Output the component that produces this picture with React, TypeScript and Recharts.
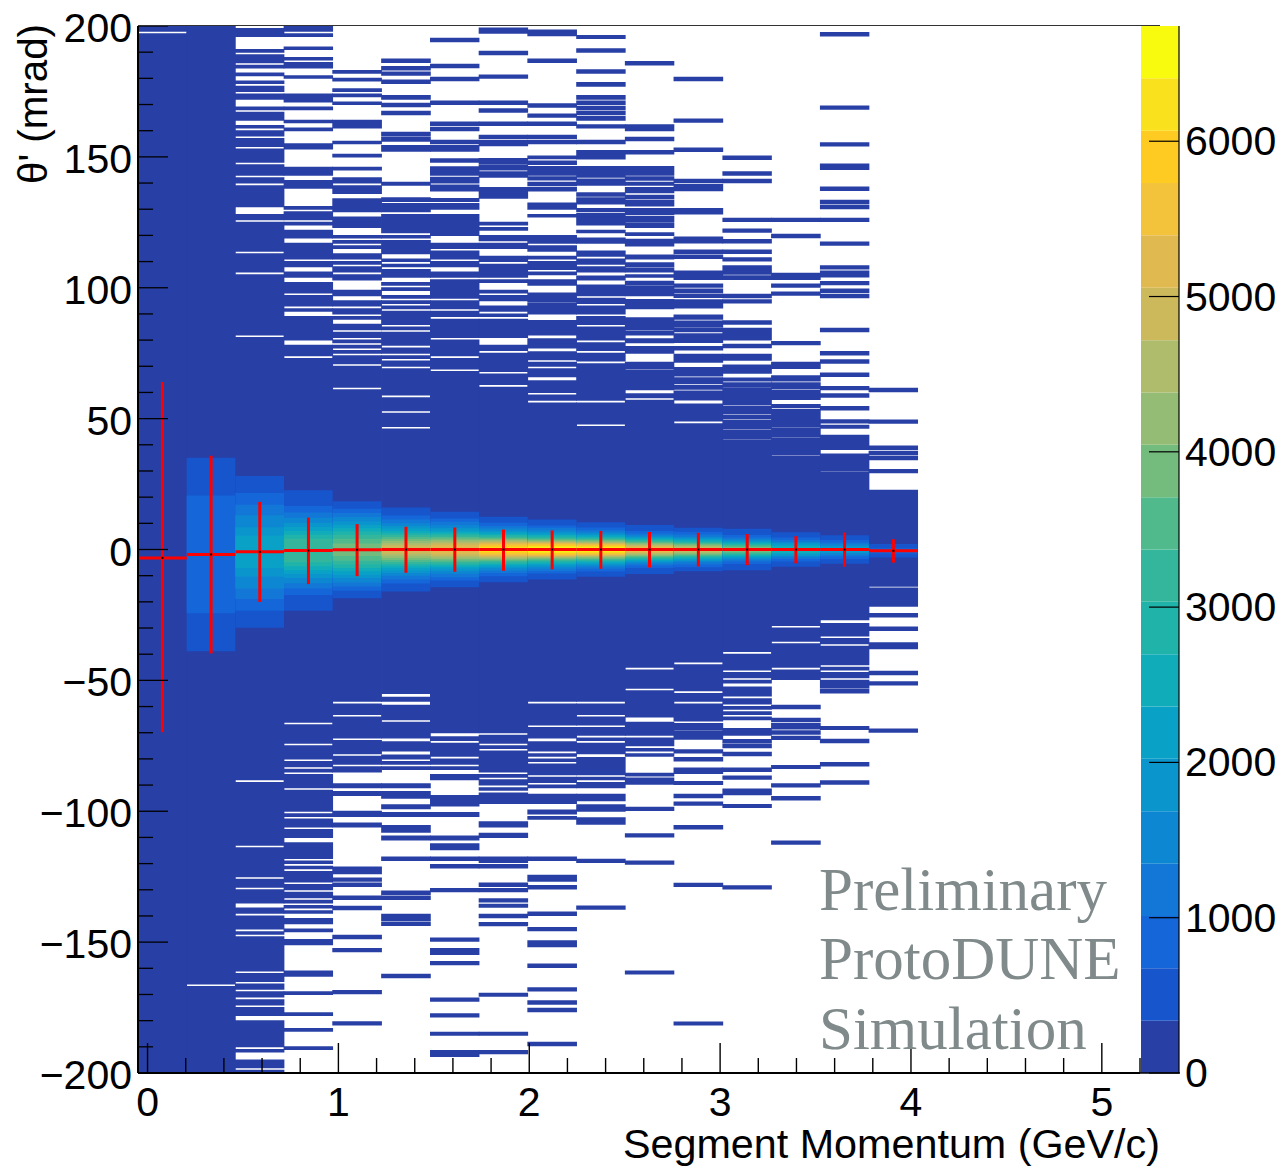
import { ScatterChart, Scatter, XAxis, YAxis, ErrorBar, ReferenceArea } from 'recharts'

// bin edges of the momentum axis (GeV/c)
const binEdges = [-0.05, 0.205, 0.46, 0.715, 0.97, 1.226, 1.482, 1.737, 1.992, 2.248, 2.503, 2.758, 3.014, 3.269, 3.525, 3.78, 4.035]
const binCentres = [0.078, 0.333, 0.588, 0.843, 1.098, 1.354, 1.61, 1.865, 2.12, 2.375, 2.63, 2.886, 3.142, 3.397, 3.652, 3.908]

// occupied theta' ranges [hi, lo] in every momentum bin (mrad)
const bins0 = [[200, 198], [197, -200]]
const bins1 = [[200, -166], [-167, -200]]
const bins2 = [[199, 196], [191, 190], [189, 186], [185, 184], [182, 181], [179, 178], [177, 175], [174, 172], [169, 168], [167, 164], [162, 161], [160, 158], [157, 154], [153, 148], [147, 143], [142, 140], [139, 131], [128, 126], [125, 114], [113, 106], [105, 82], [81, -88], [-89, -113], [-114, -125], [-126, -129], [-130, -135], [-137, -139], [-140, -145], [-146, -147], [-148, -161], [-162, -165], [-166, -168], [-169, -171], [-172, -174], [-175, -178], [-180, -190], [-191, -192], [-195, -198], [-199, -200]]
const bins3 = [[200, 198], [197, 196], [192, 191], [188, 187], [186, 184], [181, 180], [174, 171], [169, 168], [164, 163], [161, 160], [155, 153], [146, 143], [141, 138], [131, 130], [129, 126], [125, 124], [122, 119], [117, 111], [110, 108], [106, 104], [102, 98], [97, 93], [92, 91], [89, 80], [78, 74], [73, -66], [-67, -74], [-75, -80], [-81, -83], [-84, -85], [-86, -91], [-92, -100], [-101, -102], [-103, -106], [-107, -110], [-112, -118], [-119, -120], [-121, -122], [-123, -127], [-128, -130], [-131, -133], [-134, -135], [-136, -137], [-138, -139], [-141, -143], [-145, -146], [-149, -151], [-161, -163], [-169, -170], [-177, -178], [-183, -184], [-190, -191]]
const bins4 = [[183, 182], [180, 179], [176, 175], [174, 173], [171, 170], [164, 161], [156, 155], [151, 150], [146, 145], [142, 140], [139, 136], [134, 129], [127, 123], [120, 119], [118, 117], [116, 115], [113, 111], [110, 109], [108, 106], [105, 103], [99, 97], [95, 93], [92, 90], [89, 88], [86, 84], [83, 81], [80, 79], [78, 77], [76, 75], [74, 71], [70, 62], [61, -58], [-59, -63], [-64, -72], [-73, -78], [-79, -82], [-83, -85], [-89.5, -91], [-92.5, -94], [-100, -102], [-104.5, -106], [-121.3, -123.9], [-125.5, -126.7], [-127.4, -128.7], [-132.4, -133.7], [-136.3, -137.6], [-147.4, -148.7], [-152.4, -153.7], [-168.5, -169.7], [-180.4, -181.7]]
const bins5 = [[187.4, 186.1], [184.5, 183.2], [182.4, 181.2], [179.4, 178], [173.4, 172], [170.5, 169.2], [167.4, 166.1], [159.4, 158], [157.5, 156], [154.3, 152.2], [140.3, 139.2], [134.4, 133], [132.2, 130.7], [130.3, 129], [128, 121], [120, 119], [118, 113], [111, 110], [109, 108], [107, 104], [102, 101], [100, 99], [97, 96], [95, 94], [93, 92], [91, 86], [85, 84], [83, 78], [77, 75], [74, 73], [72, 70], [69, 59], [58, 53], [52, 47], [46, -55], [-56.5, -58], [-59.5, -65], [-66, -72], [-73.5, -77], [-78.5, -80], [-81, -82], [-83, -84], [-89.5, -91], [-92.5, -95], [-97.5, -99], [-100.5, -102], [-105.5, -108], [-109.5, -111], [-117.5, -118.8], [-130.5, -131.8], [-132.4, -133.7], [-139.4, -141.7], [-142.3, -143.6], [-162.3, -163.6]]
const bins6 = [[195.3, 194], [185.4, 184.1], [180.4, 179.1], [171.3, 170], [163.3, 162], [161.3, 160], [156.3, 155], [154.3, 152.2], [149.3, 148], [146.2, 143], [142.2, 140], [139.2, 137], [134.1, 133], [132.2, 130], [128, 120], [117, 115], [114, 111], [110, 108], [106, 104], [103, 96], [95, 92], [91, 89], [88, 81], [80, 74], [73, 69], [68, -70], [-71.5, -73], [-74, -79], [-80, -82], [-83, -84], [-86, -88], [-94, -98], [-100.5, -102], [-109.5, -111], [-112.4, -114.7], [-117.5, -118.8], [-120.4, -121.7], [-129.5, -130.7], [-148.4, -149.7], [-152.4, -154.7], [-157.4, -158.6], [-171.4, -172.6], [-177.4, -178.6], [-184.4, -185.6], [-191.4, -193.7]]
const bins7 = [[199.2, 197.2], [190.3, 189], [181.3, 180], [171.3, 170], [168.4, 167.1], [163.3, 162], [158.3, 157], [156.3, 154.3], [149.4, 147.3], [146.9, 145], [144.3, 142.2], [138.3, 134.2], [125, 124], [123, 122], [120, 118], [117, 115], [112, 110], [109, 104], [103, 102], [99, 98], [97, 95], [93, 91], [90, 89], [88, 81], [78, 76], [75, 68], [67, 63], [62, -70], [-71, -74], [-75, -76], [-77, -85], [-86, -87], [-88, -90], [-91, -92], [-93, -97], [-104, -106], [-108.4, -110], [-117.5, -119.6], [-120.4, -121.7], [-127.4, -128.7], [-129.5, -130.7], [-133.4, -134.7], [-135.5, -136.7], [-139.4, -140.7], [-142.5, -143.7], [-169.5, -170.7], [-184.4, -185.6], [-191.4, -192.6]]
const bins8 = [[198.5, 196.3], [187.4, 186.1], [170.3, 169], [166.4, 165.1], [163.3, 162], [158.3, 157], [156.3, 155], [150.3, 149.3], [148.4, 147.1], [146.3, 143], [142.4, 141.2], [140.3, 139], [138.3, 137], [132.4, 130], [128, 127], [120, 117], [116, 114], [112, 111], [110, 107], [106, 105], [103, 101], [98, 94.5], [94, 90], [87.5, 82], [80.5, 77], [75.5, 72.5], [71.5, 70], [69, 66], [64.5, 60], [59, 57], [56, -58], [-59, -67], [-68, -72], [-73.5, -77], [-78, -79], [-80, -81], [-82, -86], [-87, -89], [-90, -91], [-93.5, -97], [-99.5, -101], [-102, -103], [-117.5, -118.8], [-124.5, -126.7], [-128.4, -129.7], [-138.5, -139.8], [-144.4, -145.6], [-149.5, -151.8], [-158.4, -159.7], [-167.4, -168.7], [-172.4, -173.7], [-175.3, -176.6], [-188.3, -189.6]]
const bins9 = [[196.4, 195.2], [191.3, 190], [183.3, 182], [178.4, 177], [173.4, 172], [171.3, 170], [169.3, 168], [167.4, 166.1], [165.4, 164], [162.3, 161], [156.3, 155], [152.4, 149.2], [146.3, 142.2], [141.5, 139.2], [136.3, 135], [134.4, 132], [130.3, 129], [128.4, 127.1], [127, 124], [122, 121], [119, 117], [114, 112], [111, 109], [108, 106], [104.5, 103], [101, 97], [96, 94], [93, 90], [89, 86], [85, 80], [79, 76], [75, 72], [71, 57], [56, 48], [47, -58], [-59, -63], [-64, -67], [-68, -71], [-72, -73], [-74, -78], [-79.5, -86], [-87, -88], [-89, -91], [-93.5, -96], [-97.5, -100], [-102.5, -105], [-118.3, -119.6], [-136.2, -137.4]]
const bins10 = [[186.4, 185.1], [162.3, 160], [157.5, 156.2], [152.4, 151.1], [146.3, 143], [142.4, 141.1], [140.3, 139.2], [138.3, 136.3], [135.3, 134], [133.4, 131.2], [130.3, 128], [127.3, 125], [124.5, 123], [121, 120], [118.5, 116], [112.5, 111], [109.5, 108], [107.5, 106], [105, 104], [102.5, 101], [100.5, 97], [95.5, 92], [88.5, 84], [83.5, 82], [80.5, 79], [77.5, 75], [71.5, 69], [68.5, 61], [59.5, 58], [57, -45], [-46, -53], [-54, -64], [-66, -71], [-72, -75], [-76, -77], [-78, -79], [-85.5, -86.5], [-87.3, -89.7], [-98.5, -99.7], [-108.6, -109.8], [-119, -120.2], [-161, -162.2]]
const bins11 = [[180.4, 179.1], [164.5, 163.2], [153.4, 152.1], [141.4, 140.1], [139.4, 137.1], [130.3, 128.2], [119.4, 117.1], [114.4, 113.1], [112.5, 111.2], [106.4, 103.2], [101.4, 100.2], [99.5, 98.2], [97.6, 96.3], [95.4, 92.3], [89.6, 88], [87.3, 85.2], [84.7, 83.2], [82.4, 79.1], [77.5, 76.2], [74.6, 71.5], [69.5, 66.3], [65.6, 63.3], [62.6, 61.2], [60.5, 57.1], [55.6, 49.1], [48, -43], [-44, -54], [-55, -58], [-59, -65.5], [-66.5, -69], [-69.5, -72.5], [-76.5, -77.7], [-79.5, -80.8], [-83.5, -85.6], [-88.6, -89.8], [-93.5, -94.8], [-96.5, -97.7], [-105.5, -106.8], [-127.5, -128.7], [-180.5, -181.7]]
const bins12 = [[150.3, 149], [144.3, 143], [141.4, 140.1], [126.5, 125.3], [122.4, 121.2], [118.4, 117.1], [114.4, 113.1], [111.5, 110.2], [108.4, 105.2], [104.6, 103.2], [97.5, 96.2], [95.4, 94.2], [87.4, 86.1], [84.5, 80], [78.4, 77.1], [74.6, 72.3], [70.5, 67.3], [65.5, 64.4], [63.7, 62], [61.6, 55.2], [54.6, 52], [51.4, 50.1], [49.5, 46.1], [45.6, 42.1], [41.6, -39], [-40, -46], [-47, -49], [-50, -51], [-52.5, -56], [-57, -59], [-60, -61], [-62, -63], [-64, -65], [-68.4, -71], [-72.6, -73.9], [-74.4, -75.7], [-77.5, -78.8], [-83.5, -84.8], [-86.5, -87.8], [-91.5, -93.7], [-97.4, -98.6], [-128.5, -129.7]]
const bins13 = [[126.5, 125.3], [120.4, 119.1], [105.5, 103.2], [101.4, 100.2], [98.4, 97.1], [79.5, 78.2], [71.5, 69.2], [66.4, 64.4], [63.7, 61.3], [60.7, 57.3], [55.4, 54.2], [53.5, 47], [46.5, 43.2], [42.7, 36.2], [35.7, -29], [-30, -35], [-36, -45], [-46, -49.7], [-59.5, -60.8], [-64.5, -65.8], [-66.5, -68.6], [-69.3, -70.6], [-71.4, -72.6], [-82.5, -83.7], [-89.5, -90.7], [-94.4, -95.7], [-111.4, -112.6]]
const bins14 = [[197.5, 196.2], [169.4, 168.2], [155.4, 154.2], [147.3, 145.2], [138.5, 137.2], [133.4, 132.1], [131.5, 130.2], [126.5, 125.3], [117.5, 116.2], [108.4, 107.2], [106.4, 104.1], [102.4, 101.2], [99.5, 98.2], [97.5, 96.2], [84.5, 83.2], [75.6, 74.3], [72.5, 71.2], [67.4, 66.1], [62.3, 61], [59.5, 58.2], [54.6, 53.3], [49.6, 48.3], [47.5, 46.3], [43.6, 38.2], [36.5, 30.2], [29.7, -26.8], [-28.3, -33], [-34, -36], [-37, -44], [-45, -46], [-47, -49], [-50, -52.8], [-53.3, -54.8], [-67.6, -68.8], [-72.5, -73.8], [-81.4, -82.7], [-88.4, -89.7]]
const bins15 = [[61.6, 60.3], [49.5, 48.2], [39.5, 38.2], [37.5, 36.2], [35.6, 34.3], [30.6, 29.3], [22.6, -14], [-14.7, -21.7], [-24.5, -25.8], [-29.6, -30.9], [-35.6, -37.9], [-46.5, -47.8], [-50.5, -51.8], [-68.6, -69.8]]
const occupied = [bins0, bins1, bins2, bins3, bins4, bins5, bins6, bins7, bins8, bins9, bins10, bins11, bins12, bins13, bins14, bins15]

// half height (mrad) of each colour level around the bin's mean, level 1 first
const core0: number[] = []
const core1 = [37, 22.5]
const core2 = [29, 22.5, 18, 14, 9.4, 6.2]
const core3 = [23, 17, 14.5, 12.5, 10.5, 9, 7.5, 6, 4.5]
const core4 = [18.5, 15.7, 14, 12.5, 10.8, 9.5, 8.2, 7, 5.6, 4.2, 2.4]
const core5 = [16, 13, 11.5, 10, 9, 8, 7, 6.2, 5.5, 4.8, 4, 3.2, 2.4, 1.6]
const core6 = [14.4, 11.8, 10.6, 9.3, 8.2, 7.3, 6.6, 6, 5.4, 4.8, 4.2, 3.6, 3, 2.4, 1.6]
const core7 = [12.5, 10.2, 9, 8, 7.2, 6.6, 6, 5.5, 5, 4.5, 4.1, 3.7, 3.3, 2.9, 2.5, 2, 1.5, 0.9]
const core8 = [11.5, 9.2, 8.3, 7.4, 6.6, 6, 5.5, 5, 4.5, 4.1, 3.7, 3.3, 3.1, 2.8, 2.5, 2.2, 1.8, 1.3, 0.8]
const core9 = [10.4, 8.4, 7.4, 6.6, 6, 5.5, 5, 4.6, 4.2, 3.8, 3.5, 3.1, 2.8, 2.5, 2.2, 1.9, 1.5, 1.1, 0.7]
const core10 = [9.4, 7.1, 6.1, 5.4, 4.9, 4.5, 4.1, 3.7, 3.3, 3, 2.6, 2.3, 1.9, 1.5, 1.1, 0.7]
const core11 = [8.3, 6.8, 5.7, 4.9, 4.4, 3.9, 3.5, 3.1, 2.7, 2.4, 2, 1.6, 1.2, 0.8]
const core12 = [7.9, 5.5, 4.6, 3.9, 3.4, 3, 2.6, 2.2, 1.8, 1.4, 1, 0.6]
const core13 = [6.6, 4.6, 3.6, 3, 2.5, 1.9, 1.3, 0.7]
const core14 = [5.4, 3.6, 2.7, 2, 1.3, 0.7]
const core15 = [2.6, 1]
const core = [core0, core1, core2, core3, core4, core5, core6, core7, core8, core9, core10, core11, core12, core13, core14, core15]

// profile: mean and spread per momentum bin
const means = [-3.2, -1.9, -0.9, -0.4, -0.1, 0, 0, 0, 0, 0, 0, 0, 0, 0, 0, -0.5]
const spreadUp = [67.2, 37.7, 19.1, 12.6, 9.8, 8.7, 8.4, 7.6, 7.3, 7.1, 6.7, 6.4, 5.9, 5.1, 6.5, 4.4]
const spreadDown = [66.6, 37.8, 19.1, 12.8, 10.1, 8.9, 8.5, 8.1, 7.6, 7.4, 6.9, 6.5, 6, 5.3, 6.6, 4.5]

// colour scale
const levelEdges = [0, 337, 674, 1011, 1348, 1686, 2023, 2360, 2697, 3034, 3371, 3708, 4045, 4382, 4719, 5057, 5394, 5731, 6068, 6405, 6742]
const palette = ['#283fa6', '#1755cc', '#1566d8', '#1277d6', '#0e87d2', '#0a96cd', '#09a2c6', '#10acba', '#20b3aa', '#33b69b', '#50ba8c', '#74bc7e', '#94bc74', '#aebc6c', '#cbb95c', '#e0ba50', '#f3c33c', '#fdcb22', '#fae11d', '#f9fb0e']
const colorTicks = [0, 1000, 2000, 3000, 4000, 5000, 6000]

const xTicks = [0, 0.2, 0.4, 0.6, 0.8, 1, 1.2, 1.4, 1.6, 1.8, 2, 2.2, 2.4, 2.6, 2.8, 3, 3.2, 3.4, 3.6, 3.8, 4, 4.2, 4.4, 4.6, 4.8, 5, 5.2]
const yTicks = [-200, -190, -180, -170, -160, -150, -140, -130, -120, -110, -100, -90, -80, -70, -60, -50, -40, -30, -20, -10, 0, 10, 20, 30, 40, 50, 60, 70, 80, 90, 100, 110, 120, 130, 140, 150, 160, 170, 180, 190, 200]

const profile = binCentres.map((x, i) => ({
  x,
  y: means[i],
  ex: (binEdges[i + 1] - binEdges[i]) / 2,
  ey: [spreadDown[i], spreadUp[i]],
}))

// one point per colour level, only there so the scale chart has data
const levelPoints = palette.map((_, i) => ({ x: 0.5, y: (levelEdges[i] + levelEdges[i + 1]) / 2 }))

const FONT = '"Liberation Sans", Arial, sans-serif'
const TICK_FONT = 41
// small overlap so neighbouring bins leave no seam
const SEAM = 0.002

function XTick({ x, y, payload }: any) {
  const major = Number.isInteger(payload.value)
  return (
    <g>
      <line x1={x} x2={x} y1={y} y2={y - (major ? 30 : 15)} stroke="#000" strokeWidth={1.4} />
      {major && (
        <text x={x} y={y + 43} textAnchor="middle" fontSize={TICK_FONT} fontFamily={FONT} fill="#000">
          {payload.value}
        </text>
      )}
    </g>
  )
}

function YTick({ x, y, payload }: any) {
  const major = payload.value % 50 === 0
  const label = String(payload.value).replace('-', '\u2212')
  return (
    <g>
      <line x1={x} x2={x + (major ? 30 : 15)} y1={y} y2={y} stroke="#000" strokeWidth={1.3} />
      {major && (
        <text x={x - 6} y={y + 16} textAnchor="end" fontSize={TICK_FONT} fontFamily={FONT} fill="#000">
          {label}
        </text>
      )}
    </g>
  )
}

function ColorTick({ x, y, payload }: any) {
  return (
    <g>
      <line x1={x - 30} x2={x} y1={y} y2={y} stroke="#000" strokeWidth={1.2} />
      <text x={x + 6} y={y + 14} textAnchor="start" fontSize={TICK_FONT} fontFamily={FONT} fill="#000">
        {payload.value}
      </text>
    </g>
  )
}

const Marker = ({ cx, cy }: any) => <rect x={cx - 1} y={cy - 1} width={2} height={2} fill="#000" />

export default function App() {
  return (
    <div style={{ position: 'absolute', left: 0, top: 0, width: 1285, height: 1167, overflow: 'hidden', background: '#fff' }}>
      <ScatterChart
        width={1285}
        height={1167}
        margin={{ top: 26, right: 145, bottom: 0, left: 0 }}
        style={{ position: 'absolute', left: 0, top: 0 }}
      >
        <XAxis
          type="number"
          dataKey="x"
          domain={[-0.05, 5.2]}
          ticks={xTicks}
          interval={0}
          height={94}
          tickSize={0}
          tickMargin={0}
          tickLine={false}
          axisLine={{ stroke: '#000', strokeWidth: 2 }}
          tick={<XTick />}
          allowDataOverflow
        />
        <YAxis
          type="number"
          dataKey="y"
          domain={[-200, 200]}
          ticks={yTicks}
          interval={0}
          width={138}
          tickSize={0}
          tickMargin={0}
          tickLine={false}
          axisLine={{ stroke: '#000', strokeWidth: 2 }}
          tick={<YTick />}
          allowDataOverflow
        />
        {occupied.map((bands, i) =>
          bands.map(([hi, lo], j) => (
            <ReferenceArea
              key={`b${i}-${j}`}
              x1={Math.max(binEdges[i] - SEAM, -0.05)}
              x2={binEdges[i + 1] + SEAM}
              y1={Math.max(lo - 0.2, -200)}
              y2={Math.min(hi + 0.2, 200)}
              fill={palette[0]}
              fillOpacity={1}
              stroke="none"
            />
          ))
        )}
        {core.map((levels, i) =>
          levels.map((half, j) => (
            <ReferenceArea
              key={`c${i}-${j}`}
              x1={binEdges[i]}
              x2={binEdges[i + 1]}
              y1={means[i] - half}
              y2={means[i] + half}
              fill={palette[j + 1]}
              fillOpacity={1}
              stroke="none"
            />
          ))
        )}
        <Scatter data={profile} isAnimationActive={false} shape={<Marker />}>
          <ErrorBar dataKey="ey" direction="y" width={0} stroke="#ff0000" strokeWidth={3} isAnimationActive={false} />
          <ErrorBar dataKey="ex" direction="x" width={0} stroke="#ff0000" strokeWidth={3} isAnimationActive={false} />
        </Scatter>
      </ScatterChart>

      {/* colour scale, its own small chart on the right edge */}
      <ScatterChart
        width={144}
        height={1167}
        margin={{ top: 26, right: 0, bottom: 94, left: 0 }}
        style={{ position: 'absolute', left: 1141, top: 0 }}
      >
        <XAxis type="number" dataKey="x" domain={[0, 1]} hide />
        <YAxis
          type="number"
          dataKey="y"
          orientation="right"
          domain={[0, 6742]}
          ticks={colorTicks}
          interval={0}
          width={106}
          tickSize={0}
          tickMargin={0}
          tickLine={false}
          axisLine={{ stroke: '#000', strokeWidth: 1.2 }}
          tick={<ColorTick />}
          allowDataOverflow
        />
        {palette.map((color, i) => (
          <ReferenceArea
            key={color}
            x1={0}
            x2={1}
            y1={levelEdges[i]}
            y2={levelEdges[i + 1]}
            fill={color}
            fillOpacity={1}
            stroke="none"
          />
        ))}
        <Scatter data={levelPoints} isAnimationActive={false} shape={() => <g />} />
      </ScatterChart>

      {/* titles and watermark */}
      <svg width={1285} height={1167} style={{ position: 'absolute', left: 0, top: 0, pointerEvents: 'none' }}>
        <line x1={138} x2={1160} y1={25.5} y2={25.5} stroke="#333" strokeWidth={1.2} />
        <line x1={138} x2={1180} y1={1073} y2={1073} stroke="#000" strokeWidth={1.6} />
        <text x={1160} y={1158} textAnchor="end" fontSize={41.3} fontFamily={FONT} fill="#000">
          Segment Momentum (GeV/c)
        </text>
        <text transform="translate(47,24) rotate(-90)" textAnchor="end" fontSize={40.3} fontFamily={FONT} fill="#000">
          θ' (mrad)
        </text>
        <g fontSize={61} fontFamily={'"Liberation Serif", "Times New Roman", serif'} fill="#808a8a">
          <text x={819} y={910}>Preliminary</text>
          <text x={819} y={979}>ProtoDUNE</text>
          <text x={819} y={1049}>Simulation</text>
        </g>
      </svg>
    </div>
  )
}
